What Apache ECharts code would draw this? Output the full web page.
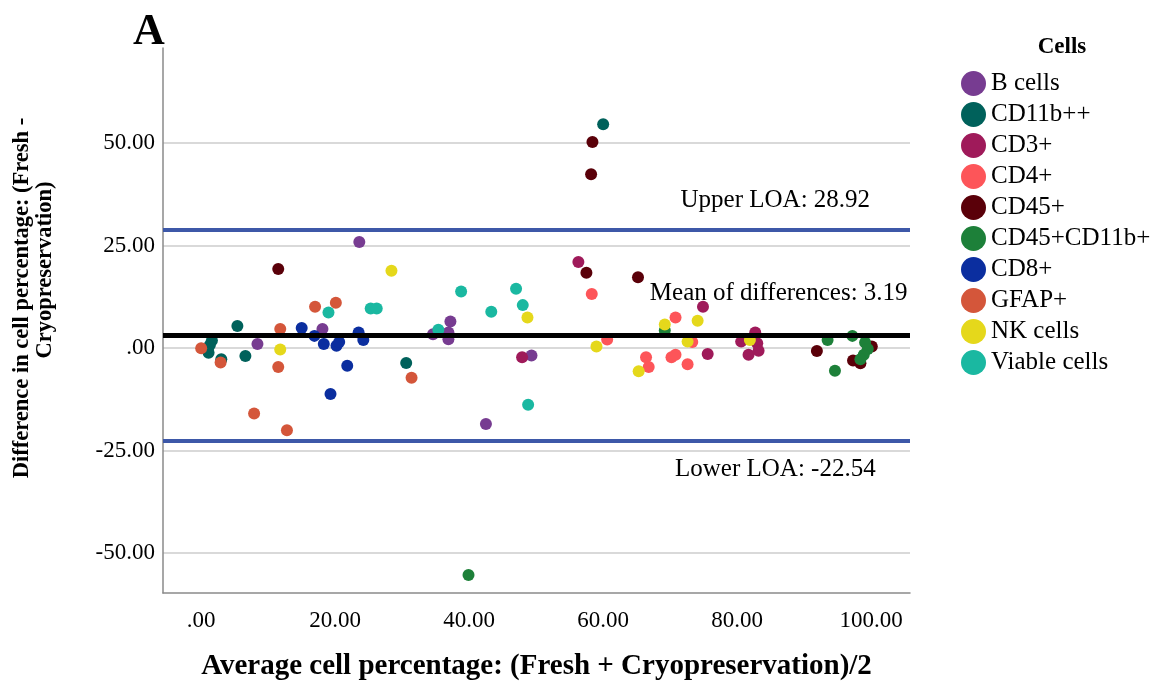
<!DOCTYPE html>
<html>
<head>
<meta charset="utf-8">
<title>Bland-Altman plot: fresh vs cryopreserved cell percentages</title>
<script src="https://cdn.jsdelivr.net/npm/echarts@6/dist/echarts.min.js"></script>
<style>
  html, body { margin: 0; padding: 0; background: #ffffff; }
  #chart { width: 1166px; height: 682px; }
</style>
</head>
<body>
<div id="chart"></div>
<script>
// Each point: [average of fresh and cryopreserved %, fresh - cryopreserved %]
const bCells      = [[8.4, 1.0], [18.1, 4.7], [23.6, 25.9], [34.6, 3.4], [37.2, 6.5], [36.9, 3.8], [36.9, 2.2], [49.3, -1.8], [42.5, -18.5]];
const cd11bPP     = [[1.6, 1.9], [1.3, 0.8], [1.1, -1.1], [3.0, -2.7], [5.4, 5.4], [6.6, -1.9], [30.6, -3.6], [60.0, 54.6]];
const cd3         = [[56.3, 21.0], [47.9, -2.2], [74.9, 10.1], [75.6, -1.4], [80.6, 1.6], [82.7, 3.8], [83.0, 1.2], [81.7, -1.6], [83.2, -0.6]];
const cd4         = [[58.3, 13.2], [60.6, 2.1], [70.8, 7.5], [73.3, 1.5], [66.4, -2.2], [66.8, -4.6], [70.2, -2.2], [70.8, -1.6], [72.6, -3.9]];
const cd45        = [[11.5, 19.3], [57.5, 18.4], [65.2, 17.3], [58.4, 50.3], [58.2, 42.4], [91.9, -0.7], [97.3, -3.0], [98.4, -3.7], [100.1, 0.4]];
const cd45cd11b   = [[39.9, -55.3], [69.2, 4.3], [93.5, 2.0], [97.2, 3.0], [94.6, -5.5], [99.1, 1.4], [99.5, -0.2], [98.9, -1.6], [98.4, -2.7]];
const cd8         = [[15.0, 4.9], [16.9, 3.0], [23.5, 3.8], [24.2, 2.0], [18.3, 1.0], [20.2, 0.6], [20.6, 1.5], [21.8, -4.3], [19.3, -11.2]];
const gfap        = [[0.0, 0.0], [2.9, -3.5], [7.9, -15.9], [11.8, 4.7], [11.5, -4.6], [12.8, -20.0], [17.0, 10.1], [20.1, 11.1], [31.4, -7.2]];
const nkCells     = [[11.8, -0.3], [28.4, 18.9], [48.7, 7.5], [59.0, 0.4], [65.3, -5.6], [69.2, 5.8], [74.1, 6.7], [72.6, 1.6], [81.9, 2.0]];
const viableCells = [[19.0, 8.7], [25.3, 9.7], [26.2, 9.7], [35.4, 4.5], [38.8, 13.8], [43.3, 8.9], [47.0, 14.5], [48.0, 10.5], [48.8, -13.8]];

const cellNames  = ['B cells', 'CD11b++', 'CD3+', 'CD4+', 'CD45+', 'CD45+CD11b+', 'CD8+', 'GFAP+', 'NK cells', 'Viable cells'];
const cellData   = [bCells, cd11bPP, cd3, cd4, cd45, cd45cd11b, cd8, gfap, nkCells, viableCells];
const cellColors = ['#773c91', '#00615b', '#9f1a5a', '#fd5559', '#5a0009', '#1d8039', '#0b2e9f', '#d4563a', '#e5d81b', '#1ab8a1'];

// Tick values shown on each axis
const xTicks = [0, 20, 40, 60, 80, 100];
const yTicks = [-50, -25, 0, 25, 50];

// Agreement statistics
const MEAN_DIFF = 3.19;
const UPPER_LOA = 28.92;
const LOWER_LOA = -22.54;

const SERIF = '"Liberation Serif", "DejaVu Serif", serif';

function tickText(v) {
  const s = Number(v).toFixed(2);
  return s === '0.00' ? '.00' : s;
}

const scatterSeries = cellNames.map((name, i) => ({
  name: name,
  type: 'scatter',
  data: cellData[i],
  symbol: 'circle',
  symbolSize: 12,
  itemStyle: { color: cellColors[i], opacity: 1 },
  emphasis: { disabled: true },
  z: 3
}));

// Reference lines and their captions
const labelX = 85.7;
const refSeries = {
  name: 'reference',
  type: 'line',
  data: [],
  silent: true,
  z: 2,
  markLine: {
    silent: true,
    symbol: ['none', 'none'],
    label: { show: false },
    data: [
      { yAxis: UPPER_LOA, lineStyle: { color: '#3d58a8', width: 4, type: 'solid' } },
      { yAxis: LOWER_LOA, lineStyle: { color: '#3d58a8', width: 4, type: 'solid' } },
      { yAxis: MEAN_DIFF, lineStyle: { color: '#000000', width: 5, type: 'solid' } }
    ]
  },
  markPoint: {
    silent: true,
    symbol: 'circle',
    symbolSize: 0,
    label: {
      show: true,
      position: 'inside',
      color: '#000',
      fontFamily: SERIF,
      fontSize: 25
    },
    data: [
      { coord: [labelX, UPPER_LOA], label: { formatter: 'Upper LOA: ' + UPPER_LOA.toFixed(2), offset: [0, -29] } },
      { coord: [labelX + 0.5, MEAN_DIFF], label: { formatter: 'Mean of differences: ' + MEAN_DIFF.toFixed(2), offset: [0, -42] } },
      { coord: [labelX, LOWER_LOA], label: { formatter: 'Lower LOA: ' + LOWER_LOA.toFixed(2), offset: [0, 29] } }
    ]
  }
};

const chart = echarts.init(document.getElementById('chart'), null, { renderer: 'canvas' });

chart.setOption({
  animation: false,
  backgroundColor: '#ffffff',
  title: {
    text: 'Cells',
    left: 1057,
    top: 31,
    textAlign: 'center',
    textStyle: { fontFamily: SERIF, fontWeight: 'bold', fontSize: 23, color: '#000' }
  },
  legend: {
    data: cellNames,
    orient: 'vertical',
    left: 956,
    top: 66,
    icon: 'circle',
    itemWidth: 25,
    itemHeight: 25,
    itemGap: 6,
    selectedMode: false,
    textStyle: { fontFamily: SERIF, fontSize: 25, color: '#000', padding: [0, 0, 0, 0] }
  },
  grid: { left: 163, right: 256, top: 48, bottom: 89, containLabel: false, outerBoundsMode: 'none' },
  xAxis: {
    type: 'value',
    min: -5.7,
    max: 105.8,
    name: 'Average cell percentage: (Fresh + Cryopreservation)/2',
    nameLocation: 'middle',
    nameGap: 59,
    nameTextStyle: { fontFamily: SERIF, fontWeight: 'bold', fontSize: 29, color: '#000' },
    axisLine: { show: true, onZero: false, lineStyle: { color: '#8a8a8a', width: 1.5 } },
    axisTick: { show: false, customValues: xTicks },
    splitLine: { show: false },
    axisLabel: {
      customValues: xTicks,
      margin: 16,
      fontFamily: SERIF,
      fontSize: 23,
      color: '#000',
      formatter: tickText
    }
  },
  yAxis: {
    type: 'value',
    min: -59.7,
    max: 73.2,
    axisLine: { show: true, onZero: false, lineStyle: { color: '#8a8a8a', width: 1.5 } },
    axisTick: { show: false, customValues: yTicks },
    splitLine: {
      show: true,
      lineStyle: { color: '#cccccc', width: 1.5 }
    },
    axisLabel: {
      customValues: yTicks,
      margin: 8,
      fontFamily: SERIF,
      fontSize: 23,
      color: '#000',
      formatter: tickText
    }
  },
  graphic: [
    {
      type: 'text',
      left: 133,
      top: 11,
      style: { text: 'A', font: 'bold 44px ' + SERIF, fill: '#000' }
    },
    {
      type: 'text',
      x: 22,
      y: 298,
      rotation: Math.PI / 2,
      style: {
        text: 'Difference in cell percentage: (Fresh -',
        font: 'bold 22.5px ' + SERIF,
        fill: '#000',
        align: 'center',
        verticalAlign: 'middle'
      }
    },
    {
      type: 'text',
      x: 45,
      y: 270,
      rotation: Math.PI / 2,
      style: {
        text: 'Cryopreservation)',
        font: 'bold 22.5px ' + SERIF,
        fill: '#000',
        align: 'center',
        verticalAlign: 'middle'
      }
    }
  ],
  series: [refSeries].concat(scatterSeries)
});
</script>
</body>
</html>
